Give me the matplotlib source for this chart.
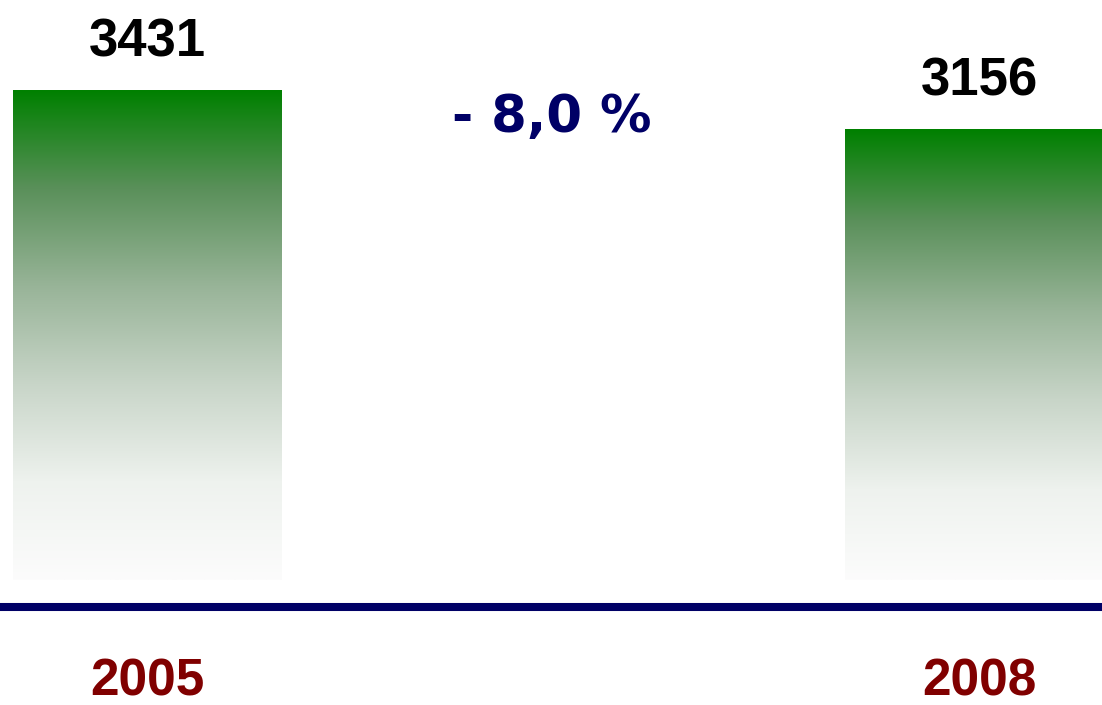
import numpy as np
import matplotlib
matplotlib.use("Agg")
import matplotlib.pyplot as plt

# data
years = ['2005', '2008']
values = [3431, 3156]
change_label = '- 8,0 %'

# layout (pixel-ish units across the figure)
W, H = 1102, 705
bar_x = [147.5, 979.5]
bar_w = 269
base_px = 125          # bar bottom, px from figure bottom
top_px = 615           # top of tallest bar, px from figure bottom
scale = max(values) / (top_px - base_px)   # data units per px

fig = plt.figure(figsize=(W / 100, H / 100), dpi=100)
ax = fig.add_axes([0, 0, 1, 1])
ax.set_xlim(0, W)
ax.set_ylim(-base_px * scale, (H - base_px) * scale)
ax.axis('off')

# vertical gradient: green at top -> near white at bottom
stops = [0.0, 0.2, 0.4, 0.6, 0.8, 1.0]
cols = np.array([[0, 128, 0], [90, 144, 90], [152, 180, 152],
                 [200, 213, 200], [238, 242, 238], [252, 252, 252]]) / 255
t = np.linspace(0, 1, 256)
grad = np.stack([np.interp(t, stops, cols[:, c]) for c in range(3)], axis=1)
grad = grad[:, None, :]

for x, v in zip(bar_x, values):
    ax.imshow(grad, extent=[x - bar_w / 2, x + bar_w / 2, 0, v],
              aspect='auto', interpolation='bilinear', zorder=2)
    ax.annotate(str(v), (x, v), xytext=(0, 24), textcoords='offset points',
                ha='center', va='baseline', fontsize=38, fontweight='bold',
                family='Liberation Sans', color='black')

# baseline
ax.axhline(-27 * scale, color='#000066', lw=5.8, zorder=3)

# year labels
for x, yr in zip(bar_x, years):
    ax.text(x, 9 / H, yr, transform=ax.get_xaxis_transform(),
            ha='center', va='baseline', fontsize=37, fontweight='bold',
            family='Liberation Sans', color='#800000')

fig.text(552 / W, 1 - 118 / H, change_label, ha='center', va='center',
         fontsize=37, fontweight='bold', family='DejaVu Sans', color='#000066')

fig.savefig('out.png', dpi=100)
